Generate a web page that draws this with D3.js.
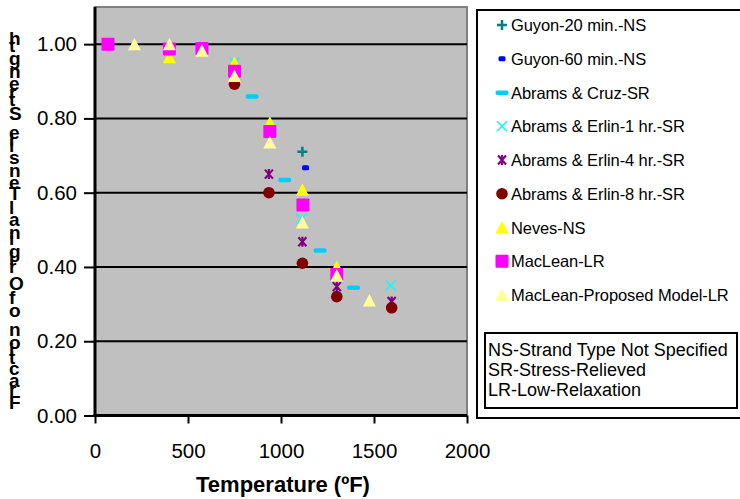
<!DOCTYPE html>
<html>
<head>
<meta charset="utf-8">
<script src="https://cdn.jsdelivr.net/npm/d3@7"></script>
<style>
  body { margin: 0; background: #fff; }
  text { font-family: "Liberation Sans", Arial, sans-serif; }
</style>
</head>
<body>
<div id="chartWrap"></div>
<script>
// data: temperature (F) and fraction of strength per series
const guyon20Temp = [1115];
const guyon20Val = [0.71];
const guyon60Temp = [1132];
const guyon60Val = [0.667];
const cruzTemp = [845, 1020, 1210, 1390];
const cruzVal = [0.86, 0.635, 0.445, 0.345];
const erlin1Temp = [750, 1110, 1590];
const erlin1Val = [0.95, 0.53, 0.35];
const erlin4Temp = [935, 1115, 1300, 1595];
const erlin4Val = [0.65, 0.468, 0.347, 0.307];
const erlin8Temp = [750, 935, 1115, 1300, 1595];
const erlin8Val = [0.892, 0.6, 0.41, 0.32, 0.29];
const nevesTemp = [400, 750, 940, 1115, 1300];
const nevesVal = [0.965, 0.949, 0.788, 0.608, 0.4];
const macleanTemp = [70, 400, 575, 750, 940, 1118, 1300];
const macleanVal = [1.0, 0.987, 0.988, 0.927, 0.765, 0.567, 0.38];
const proposedTemp = [212, 400, 575, 750, 940, 1115, 1300, 1475];
const proposedVal = [1.0, 1.0, 0.982, 0.914, 0.735, 0.52, 0.377, 0.31];

const seriesNames = [
  'Guyon-20 min.-NS', 'Guyon-60 min.-NS', 'Abrams & Cruz-SR',
  'Abrams & Erlin-1 hr.-SR', 'Abrams & Erlin-4 hr.-SR', 'Abrams & Erlin-8 hr.-SR',
  'Neves-NS', 'MacLean-LR', 'MacLean-Proposed Model-LR',
];
const seriesTemps = [guyon20Temp, guyon60Temp, cruzTemp, erlin1Temp, erlin4Temp, erlin8Temp, nevesTemp, macleanTemp, proposedTemp];
const seriesVals = [guyon20Val, guyon60Val, cruzVal, erlin1Val, erlin4Val, erlin8Val, nevesVal, macleanVal, proposedVal];
const seriesShapes = ['plus', 'smallDash', 'dash', 'cross', 'star', 'circle', 'triangle', 'square', 'triangle'];
const seriesColors = ['#008080', '#0000FF', '#00CCFF', '#00FFFF', '#800080', '#800000', '#FFFF00', '#FF00FF', '#FFFF99'];

const xTicks = [0, 500, 1000, 1500, 2000];
const yTicks = [0, 0.2, 0.4, 0.6, 0.8, 1.0];
const noteLines = ['NS-Strand Type Not Specified', 'SR-Stress-Relieved', 'LR-Low-Relaxation'];

const width = 740;
const height = 499;
const plot = { left: 95, right: 467, top: 7, bottom: 415.5 };

const svg = d3.select('#chartWrap')
  .append('svg')
  .attr('width', width)
  .attr('height', height);

const x = d3.scaleLinear().domain([0, 2000]).range([plot.left, plot.right]);
const y = d3.scaleLinear().domain([0, 1.1]).range([plot.bottom, plot.top]);

// plot area
svg.append('rect')
  .attr('x', plot.left).attr('y', plot.top)
  .attr('width', plot.right - plot.left).attr('height', plot.bottom - plot.top)
  .attr('fill', '#C0C0C0')
  .attr('stroke', '#808080')
  .attr('stroke-width', 2);

// gridlines
svg.append('g')
  .selectAll('line')
  .data(yTicks.filter((d) => d > 0))
  .enter()
  .append('line')
  .attr('x1', plot.left).attr('x2', plot.right)
  .attr('y1', (d) => y(d)).attr('y2', (d) => y(d))
  .attr('stroke', '#000')
  .attr('stroke-width', 2);

// axes
const yAxis = svg.append('g')
  .attr('transform', `translate(${plot.left},0)`)
  .call(d3.axisLeft(y).tickValues(yTicks).tickFormat(d3.format('.2f')).tickSize(11).tickPadding(7));
const xAxis = svg.append('g')
  .attr('transform', `translate(0,${plot.bottom})`)
  .call(d3.axisBottom(x).tickValues(xTicks).tickFormat(d3.format('d')).tickSize(8).tickPadding(20));

[yAxis, xAxis].forEach((ax) => {
  ax.select('.domain').attr('stroke-width', 3);
  ax.selectAll('.tick line').attr('stroke-width', 2);
  ax.selectAll('.tick text')
    .attr('fill', '#000')
    .style('font-family', '"Liberation Sans", Arial, sans-serif')
    .style('font-size', '20.5px');
});
yAxis.select('.domain').attr('d', `M0,${plot.top}V${plot.bottom + 1.5}`);
xAxis.select('.domain').attr('d', `M${plot.left - 1.5},0H${plot.right}`);

// axis titles
svg.append('text')
  .attr('x', (plot.left + plot.right) / 2 + 2)
  .attr('y', 492)
  .attr('text-anchor', 'middle')
  .style('font-size', '22px')
  .style('font-weight', 'bold')
  .text('Temperature (ºF)');

// the y title is laid out vertically with upright glyphs
svg.append('text')
  .attr('transform', 'translate(9,409) rotate(-90)')
  .attr('rotate', 90)
  .attr('textLength', 376)
  .attr('lengthAdjust', 'spacing')
  .style('font-size', '19px')
  .style('font-weight', 'bold')
  .text('Fraction of Original Tensile Strength');

// marker shapes
function drawMarker(g, shape, color) {
  if (shape === 'plus') {
    g.append('path').attr('d', 'M-5,0H5M0,-5V5').attr('stroke', color).attr('stroke-width', 2.5);
  } else if (shape === 'smallDash') {
    g.append('rect').attr('x', -3.5).attr('y', -2.5).attr('width', 7).attr('height', 5).attr('rx', 1.5).attr('fill', color);
  } else if (shape === 'dash') {
    g.append('rect').attr('x', -6.5).attr('y', -2).attr('width', 13).attr('height', 4.5).attr('rx', 2).attr('fill', color);
  } else if (shape === 'cross') {
    g.append('path').attr('d', 'M-5,-5L5,5M-5,5L5,-5').attr('stroke', color).attr('stroke-width', 1.5);
  } else if (shape === 'star') {
    g.append('path').attr('d', 'M-4,-4.5L4,4.5M-4,4.5L4,-4.5M0,-5V5').attr('stroke', color).attr('stroke-width', 2.2);
  } else if (shape === 'circle') {
    g.append('circle').attr('r', 5.8).attr('fill', color);
  } else if (shape === 'triangle') {
    g.append('path').attr('d', 'M0,-6.5L6.5,6L-6.5,6Z').attr('fill', color);
  } else if (shape === 'square') {
    g.append('rect').attr('x', -6.5).attr('y', -6.5).attr('width', 13).attr('height', 13).attr('rx', 1).attr('fill', color);
  }
}

// points, series in order so later ones sit on top
seriesNames.forEach((name, i) => {
  const pts = seriesTemps[i].map((t, j) => ({ t, v: seriesVals[i][j] }));
  const grp = svg.append('g').attr('class', 'series');
  pts.forEach((p) => {
    const m = grp.append('g').attr('transform', `translate(${x(p.t)},${y(p.v)})`);
    drawMarker(m, seriesShapes[i], seriesColors[i]);
  });
});

// legend
svg.append('rect')
  .attr('x', 477).attr('y', 10)
  .attr('width', 280).attr('height', 408)
  .attr('fill', '#fff')
  .attr('stroke', '#000')
  .attr('stroke-width', 2);

const legendY = d3.scalePoint().domain(seriesNames).range([25, 295]);
seriesNames.forEach((name, i) => {
  const m = svg.append('g').attr('transform', `translate(502,${legendY(name)})`);
  drawMarker(m, seriesShapes[i], seriesColors[i]);
  svg.append('text')
    .attr('x', 511)
    .attr('y', legendY(name) + 6)
    .style('font-size', '16.5px')
    .style('letter-spacing', '-0.1px')
    .text(name);
});

// note box
svg.append('rect')
  .attr('x', 485).attr('y', 333)
  .attr('width', 252).attr('height', 75)
  .attr('fill', 'none')
  .attr('stroke', '#000')
  .attr('stroke-width', 2);
svg.selectAll('.note')
  .data(noteLines)
  .enter()
  .append('text')
  .attr('class', 'note')
  .attr('x', 488)
  .attr('y', (d, i) => 356 + i * 20)
  .style('font-size', '18px')
  .text((d) => d);
</script>
</body>
</html>
